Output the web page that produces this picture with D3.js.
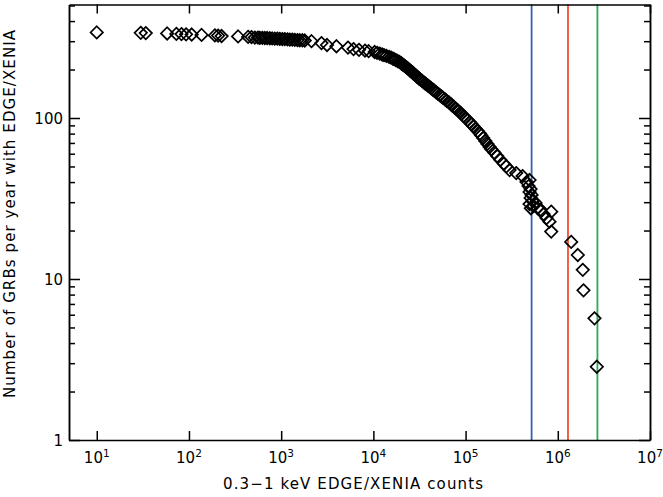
<!DOCTYPE html>
<html>
<head>
<meta charset="utf-8">
<script src="https://cdn.jsdelivr.net/npm/d3@7"></script>
<style>
  body { margin: 0; background: #ffffff; }
  text { font-family: "DejaVu Sans", sans-serif; fill: #000; }
</style>
</head>
<body>
<script>
//Counts in the 0.3-1 keV band for each GRB (x) and the cumulative rate per year (y)
var counts = [10, 30, 34, 58, 73, 83, 93, 107, 137, 191, 207, 226, 341, 438, 477, 518,
  560, 587, 625, 665, 705, 753, 800, 853, 910, 966, 1030, 1094, 1170, 1240, 1320, 1405, 1500, 1591, 1700, 1802,
  2132, 2735, 3143, 3975, 5306,
  6090, 6980, 8110, 8890, 10330, 10970, 11740, 12470, 13040, 13840, 14800, 15560, 16260, 16750,
  17540, 18340, 19180, 19820, 20230, 20850, 21530, 22190, 22910, 23390, 24150, 24890, 25650,
  26490, 26980, 27800, 28770, 29650, 30690, 31260, 32500, 33730, 34990, 36390, 37410, 39080,
  40640, 42370, 44250, 45600, 47640, 49890, 52360, 54830, 56490, 59430, 62370, 65920, 69180,
  71290, 74990, 78700, 83180, 87500, 90360, 94850, 100000, 105400, 111400, 115100, 121300,
  127900, 135500, 143300, 148000, 155200, 163700, 172600, 182400, 190500, 204800, 220300,
  237700, 260000, 276700,
  299900, 354000, 415000, 494000,
  458000, 482000, 507000, 494000, 520000, 507000, 532000, 574000, 494000, 546000, 510000,
  603000, 650000, 849000, 700000, 755000, 813000, 849000,
  1397000, 1648000, 1866000, 1900000, 2500000, 2650000];

var ratePerYear = [340, 338, 337, 335, 333, 332, 331, 330, 328, 326, 325, 323, 321, 319, 318, 316,
  316, 315, 315, 314, 314, 313, 312, 311, 311, 310, 309, 309, 308, 307, 307, 306, 305, 304, 304, 303,
  300, 292, 284, 279, 274,
  268, 265, 262, 260, 257, 254, 251, 248, 246, 243, 240, 237, 234, 232,
  229, 226, 223, 220, 218, 215, 212, 209, 206, 204, 201, 198, 195,
  192, 190, 187, 184, 181, 178, 176, 173, 170, 167, 164, 162, 159,
  156, 153, 150, 148, 145, 142, 139, 136, 134, 131, 128, 125, 122,
  120, 117, 114, 111, 108, 106, 103, 100, 97, 94, 92, 89,
  86, 83, 80, 78, 75, 72, 69, 66, 64, 61, 58,
  55, 52, 50,
  47.5, 45.5, 43.6, 41.2,
  40.0, 37.8, 36.2, 34.7, 33.3, 31.9, 30.5, 29.7, 29.2, 28.4, 27.5,
  27.6, 27.0, 26.2, 25.3, 23.9, 22.7, 19.7,
  17.0, 14.1, 11.4, 8.5, 5.7, 2.85];

//Vertical marker lines
var lineCounts = [520000, 1290000, 2690000];
var lineColors = ["#3563ad", "#f0502d", "#2aa85c"];

//Tick values
var xTickValues = [10, 100, 1000, 10000, 100000, 1000000, 10000000];
var xTickExponents = ["1", "2", "3", "4", "5", "6", "7"];
var yMajorTicks = [1, 10, 100];
var yMajorLabels = ["1", "10", "100"];
var yMinorTicks = [2, 3, 4, 5, 6, 7, 8, 9, 20, 30, 40, 50, 60, 70, 80, 90, 200, 300, 400, 500];

function main(){

  var w = 663;
  var h = 497;
  var left = 69, right = 650, top = 4.5, bottom = 440;

  var svg = d3.select("body")
              .append("svg")
              .attr("width", w)
              .attr("height", h);

  var x = d3.scaleLog().domain([5, 1e7]).range([left, right]);
  var y = d3.scaleLog().domain([1, 507]).range([bottom, top]);

  //vertical coloured lines
  svg.selectAll("line.edge")
    .data(lineCounts)
    .enter()
    .append("line")
    .attr("class", "edge")
    .attr("x1", function(d){ return x(d); })
    .attr("x2", function(d){ return x(d); })
    .attr("y1", top)
    .attr("y2", bottom)
    .attr("stroke", function(d, i){ return lineColors[i]; })
    .attr("stroke-width", 1.8);

  //diamonds
  var pts = counts.map(function(c, i){ return {c: c, r: ratePerYear[i]}; });
  var s = 6.2;
  svg.selectAll("path.pt")
    .data(pts)
    .enter()
    .append("path")
    .attr("class", "pt")
    .attr("d", "M0," + (-s) + "L" + s + ",0L0," + s + "L" + (-s) + ",0Z")
    .attr("transform", function(d){ return "translate(" + x(d.c) + "," + y(d.r) + ")"; })
    .attr("fill", "none")
    .attr("stroke", "#000")
    .attr("stroke-width", 1.7);

  //axes, ticks pointing inwards
  function styleAxis(g){
    g.selectAll("path, line").attr("stroke", "#000").attr("stroke-width", 1.5);
  }

  svg.append("g").attr("transform", "translate(0," + bottom + ")")
    .call(d3.axisBottom(x).tickValues(xTickValues).tickSize(-9).tickSizeOuter(0).tickFormat(""))
    .call(styleAxis);
  svg.append("g").attr("transform", "translate(0," + top + ")")
    .call(d3.axisTop(x).tickValues(xTickValues).tickSize(-9).tickSizeOuter(0).tickFormat(""))
    .call(styleAxis);

  svg.append("g").attr("transform", "translate(" + left + ",0)")
    .call(d3.axisLeft(y).tickValues(yMajorTicks).tickSize(-11).tickSizeOuter(0).tickFormat(""))
    .call(styleAxis);
  svg.append("g").attr("transform", "translate(" + left + ",0)")
    .call(d3.axisLeft(y).tickValues(yMinorTicks).tickSize(-6).tickSizeOuter(0).tickFormat(""))
    .call(styleAxis);
  svg.append("g").attr("transform", "translate(" + right + ",0)")
    .call(d3.axisRight(y).tickValues(yMajorTicks).tickSize(-11).tickSizeOuter(0).tickFormat(""))
    .call(styleAxis);
  svg.append("g").attr("transform", "translate(" + right + ",0)")
    .call(d3.axisRight(y).tickValues(yMinorTicks).tickSize(-6).tickSizeOuter(0).tickFormat(""))
    .call(styleAxis);

  //x tick labels as 10^n
  var xl = svg.selectAll("text.xl")
    .data(xTickValues)
    .enter()
    .append("text")
    .attr("class", "xl")
    .attr("x", function(d){ return x(d); })
    .attr("y", 463)
    .attr("text-anchor", "middle")
    .style("font-size", "15px");
  xl.append("tspan").text("10");
  xl.append("tspan")
    .attr("dy", -6)
    .style("font-size", "10.5px")
    .text(function(d, i){ return xTickExponents[i]; });

  //y tick labels
  svg.selectAll("text.yl")
    .data(yMajorTicks)
    .enter()
    .append("text")
    .attr("class", "yl")
    .attr("x", left - 6)
    .attr("y", function(d){ return y(d) + 5.5; })
    .attr("text-anchor", "end")
    .style("font-size", "15px")
    .text(function(d, i){ return yMajorLabels[i]; });

  //axis titles
  svg.append("text")
    .attr("x", 353)
    .attr("y", 489)
    .attr("text-anchor", "middle")
    .attr("textLength", 260)
    .attr("lengthAdjust", "spacing")
    .style("font-size", "15px")
    .text("0.3\u22121 keV EDGE/XENIA counts");

  svg.append("text")
    .attr("transform", "translate(15,214) rotate(-90)")
    .attr("text-anchor", "middle")
    .attr("textLength", 368)
    .attr("lengthAdjust", "spacing")
    .style("font-size", "15px")
    .text("Number of GRBs per year with EDGE/XENIA");
}

window.onload = function() {
  main();
};
</script>
</body>
</html>
